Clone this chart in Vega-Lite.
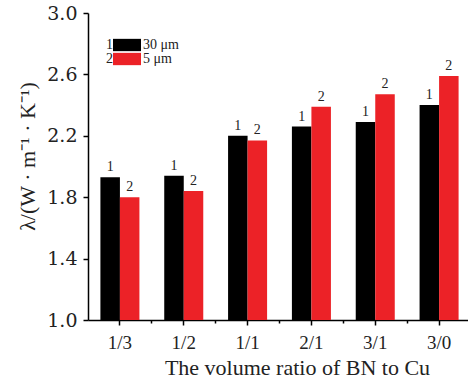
{
  "$schema": "https://vega.github.io/schema/vega-lite/v6.json",
  "autosize": {"type": "none"},
  "padding": {"left": 88, "top": 13, "right": 0, "bottom": 60},
  "width": 383,
  "height": 307,
  "background": "white",
  "config": {
    "view": {"stroke": null},
    "font": "Liberation Serif",
    "text": {"font": "Liberation Serif"},
    "legend": {"labelFont": "Liberation Serif", "titleFont": "Liberation Serif"},
    "axis": {"labelFont": "Liberation Serif", "titleFont": "Liberation Serif", "domainColor": "black", "domainWidth": 1.5, "tickColor": "black", "tickWidth": 1.5, "labelColor": "#222", "titleColor": "#222", "grid": false, "titleFontWeight": "normal"}
  },
  "data": {
    "values": [
      {"ratio": "1/3", "size": "30 μm", "num": "1", "value": 1.93},
      {"ratio": "1/3", "size": "5 μm", "num": "2", "value": 1.80},
      {"ratio": "1/2", "size": "30 μm", "num": "1", "value": 1.94},
      {"ratio": "1/2", "size": "5 μm", "num": "2", "value": 1.84},
      {"ratio": "1/1", "size": "30 μm", "num": "1", "value": 2.20},
      {"ratio": "1/1", "size": "5 μm", "num": "2", "value": 2.17},
      {"ratio": "2/1", "size": "30 μm", "num": "1", "value": 2.26},
      {"ratio": "2/1", "size": "5 μm", "num": "2", "value": 2.39},
      {"ratio": "3/1", "size": "30 μm", "num": "1", "value": 2.29},
      {"ratio": "3/1", "size": "5 μm", "num": "2", "value": 2.47},
      {"ratio": "3/0", "size": "30 μm", "num": "1", "value": 2.40},
      {"ratio": "3/0", "size": "5 μm", "num": "2", "value": 2.59}
    ]
  },
  "resolve": {"axis": {"x": "independent"}},
  "layer": [
    {
      "mark": {"type": "bar"},
      "encoding": {
        "x": {
          "field": "ratio", "type": "nominal", "sort": null,
          "scale": {"paddingInner": 0, "paddingOuter": 0},
          "axis": {
            "orient": "bottom", "labelAngle": 0, "tickSize": 5, "labelPadding": 8,
            "labelFontSize": 19, "title": "The volume ratio of BN to Cu",
            "titleFontSize": 22, "titleBaseline": "alphabetic", "titleX": 209, "titleY": 54
          }
        },
        "xOffset": {
          "field": "size", "type": "nominal", "sort": ["30 μm", "5 μm"],
          "scale": {"paddingInner": 0, "paddingOuter": 0.636}
        },
        "y": {
          "field": "value", "type": "quantitative",
          "scale": {"domain": [1, 3], "nice": false, "zero": false},
          "axis": {
            "values": [1, 1.2, 1.4, 1.6, 1.8, 2, 2.2, 2.4, 2.6, 2.8, 3],
            "labelExpr": "round((datum.value - 1) * 10) % 4 == 0 ? format(datum.value, '.1f') : ''",
            "tickSize": 5, "labelPadding": 6, "labelFontSize": 19, "labelFont": "DejaVu Serif",
            "title": "λ/(W · m⁻¹ · K⁻¹)", "titleFontSize": 22,
            "titleAngle": -90, "titleBaseline": "middle", "titleAlign": "center",
            "titleX": -61, "titleY": 143
          }
        },
        "y2": {"datum": 1},
        "color": {
          "field": "size", "type": "nominal",
          "scale": {"domain": ["30 μm", "5 μm"], "range": ["#000000", "#ec2227"]},
          "legend": {
            "title": null, "orient": "none", "legendX": 25, "legendY": 25,
            "symbolType": "M-1,-0.44H1V0.44H-1Z", "symbolSize": 784,
            "symbolStrokeWidth": 0, "clipHeight": 14, "rowPadding": -1.5,
            "labelOffset": 2, "labelFontSize": 14,
            "labelColor": "#222", "padding": 0
          }
        }
      }
    },
    {
      "mark": {"type": "text", "baseline": "bottom", "dy": -3, "fontSize": 14, "color": "#222", "font": "Liberation Serif"},
      "encoding": {
        "x": {
          "field": "ratio", "type": "nominal", "sort": null,
          "axis": {
            "orient": "bottom", "values": ["1/2", "1/1", "2/1", "3/1", "3/0"],
            "bandPosition": 0, "tickSize": 3, "labels": false, "domain": false, "title": null
          }
        },
        "xOffset": {"field": "size", "type": "nominal", "sort": ["30 μm", "5 μm"]},
        "y": {"field": "value", "type": "quantitative"},
        "text": {"field": "num"},
        "opacity": {
          "field": "num", "type": "ordinal",
          "scale": {"range": [1, 1]},
          "legend": {
            "title": null, "orient": "none", "legendX": 4, "legendY": 25,
            "symbolSize": 0, "symbolOpacity": 0, "symbolStrokeWidth": 0,
            "clipHeight": 14, "rowPadding": -1.5, "labelOffset": 0,
            "labelFontSize": 14, "labelColor": "#222", "padding": 0
          }
        }
      }
    }
  ]
}
